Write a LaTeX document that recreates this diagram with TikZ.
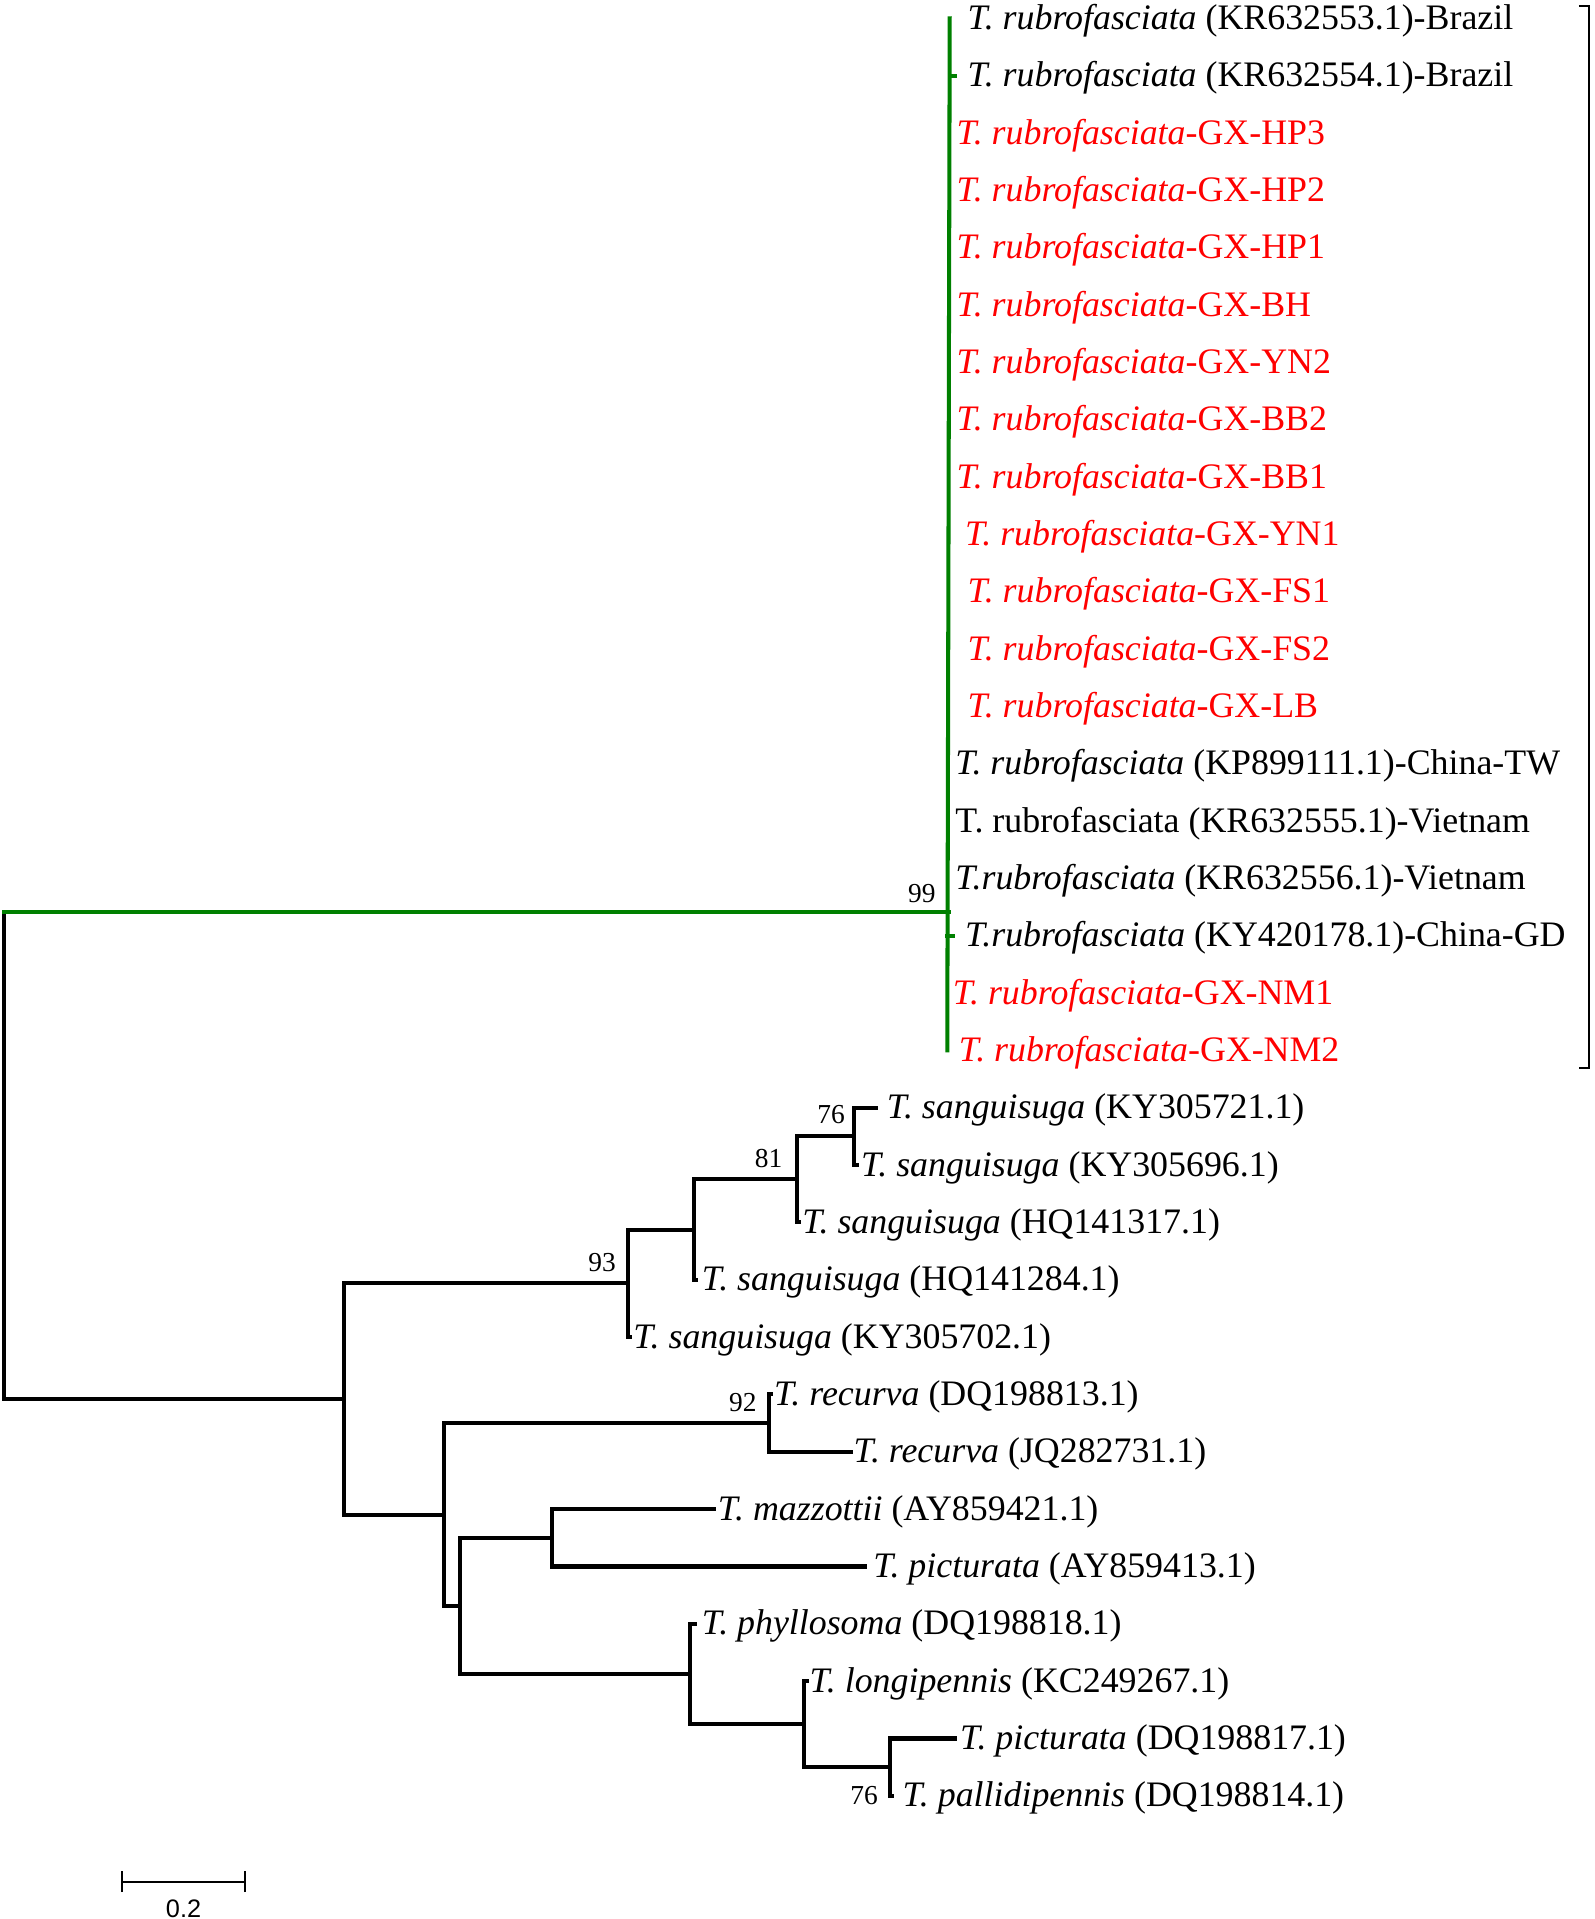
\documentclass[tikz,border=0pt]{standalone}
\usepackage{fontspec}
\setmainfont{Liberation Serif}
\newfontfamily\barfont{Liberation Sans}
\definecolor{treegreen}{RGB}{0,128,0}
\definecolor{labred}{RGB}{255,0,0}
\begin{document}
\begin{tikzpicture}[x=0.012241cm,y=-0.012241cm,
  br/.style={line width=1.15pt,black,line cap=rect,line join=miter},
  gbr/.style={line width=1.15pt,treegreen,line cap=rect,line join=miter},
  thin/.style={line width=0.6pt,black},
  lab/.style={anchor=base west,inner sep=0pt,font=\fontsize{10.2}{12}\selectfont},
  rlab/.style={lab,text=labred},
  boot/.style={inner sep=0pt,font=\fontsize{7.8}{9}\selectfont}]
\useasboundingbox (0,0) rectangle (1303,1568);
% ---------- green clade ----------
\coordinate (R) at (3,944);
\coordinate (g99) at (775,745);
\coordinate (gtop) at (776,15);
\coordinate (gbot) at (774,858.3);
\coordinate (g2) at (780,61.85);
\coordinate (g17) at (779,764.6);
\draw[br] (R |- g99) -- (R |- 0,1143);
\draw[gbr] (R |- g99) -- (g99);
\draw[gbr] (gtop) -- (gbot);
\draw[gbr] (gtop |- g2) -- (g2);
\draw[gbr] (gbot |- g17) -- (g17);
\node[boot,anchor=south east] (b99) at (765,738) {99};
% green clade labels
\node[lab] (l1) at (790,24.0) {\textit{T. rubrofasciata} (KR632553.1)-Brazil};
\node[lab] (l2) at (790,70.85) {\textit{T. rubrofasciata} (KR632554.1)-Brazil};
\node[rlab] (l3) at (781,117.7) {\textit{T. rubrofasciata}-GX-HP3};
\node[rlab] (l4) at (781,164.55) {\textit{T. rubrofasciata}-GX-HP2};
\node[rlab] (l5) at (781,211.4) {\textit{T. rubrofasciata}-GX-HP1};
\node[rlab] (l6) at (781,258.25) {\textit{T. rubrofasciata}-GX-BH};
\node[rlab] (l7) at (781,305.1) {\textit{T. rubrofasciata}-GX-YN2};
\node[rlab] (l8) at (781,351.95) {\textit{T. rubrofasciata}-GX-BB2};
\node[rlab] (l9) at (781,398.8) {\textit{T. rubrofasciata}-GX-BB1};
\node[rlab] (l10) at (788,445.65) {\textit{T. rubrofasciata}-GX-YN1};
\node[rlab] (l11) at (790,492.5) {\textit{T. rubrofasciata}-GX-FS1};
\node[rlab] (l12) at (790,539.35) {\textit{T. rubrofasciata}-GX-FS2};
\node[rlab] (l13) at (790,586.2) {\textit{T. rubrofasciata}-GX-LB};
\node[lab] (l14) at (780,633.05) {\textit{T. rubrofasciata} (KP899111.1)-China-TW};
\node[lab] (l15) at (780,679.9) {T. rubrofasciata (KR632555.1)-Vietnam};
\node[lab] (l16) at (780,726.75) {\textit{T.rubrofasciata} (KR632556.1)-Vietnam};
\node[lab] (l17) at (788,773.6) {\textit{T.rubrofasciata} (KY420178.1)-China-GD};
\node[rlab] (l18) at (778,820.45) {\textit{T. rubrofasciata}-GX-NM1};
\node[rlab] (l19) at (783,867.3) {\textit{T. rubrofasciata}-GX-NM2};
% bracket
\coordinate (kt) at (1290,5);
\coordinate (kb) at (1290,873);
\coordinate (kr) at (1298,440);
\draw[thin] (kt) -| (kr) |- (kb);
% ---------- black clade ----------
\coordinate (A) at (281,1143.0);
\coordinate (B) at (513,1048.6);
\coordinate (C) at (567,1004.7);
\coordinate (D) at (651,963.7);
\coordinate (E) at (698,928.6);
\coordinate (F) at (363,1237.5);
\coordinate (G) at (628,1162.8);
\coordinate (H) at (376,1312.2);
\coordinate (I) at (451,1256.5);
\coordinate (J) at (564,1367.8);
\coordinate (K) at (657,1408.8);
\coordinate (L) at (727,1443.9);
% tips
\coordinate (t20) at (716,905.15);
\coordinate (t21) at (700,952.0);
\coordinate (t22) at (653,998.85);
\coordinate (t23) at (569,1045.7);
\coordinate (t24) at (515,1092.55);
\coordinate (t25) at (630,1139.4);
\coordinate (t26) at (695,1186.25);
\coordinate (t27) at (583,1233.1);
\coordinate (t28) at (707,1279.95);
\coordinate (t29) at (568,1326.8);
\coordinate (t30) at (659,1373.65);
\coordinate (t31) at (780,1420.5);
\coordinate (t32) at (729,1467.35);
\draw[br] (R |- A) -- (A);
\draw[br] (A) |- (B);
\draw[br] (A) |- (F);
\draw[br] (B) |- (C);
\draw[br] (B) |- (t24);
\draw[br] (C) |- (D);
\draw[br] (C) |- (t23);
\draw[br] (D) |- (E);
\draw[br] (D) |- (t22);
\draw[br] (E) |- (t20);
\draw[br] (E) |- (t21);
\draw[br] (F) |- (G);
\draw[br] (F) |- (H);
\draw[br] (G) |- (t25);
\draw[br] (G) |- (t26);
\draw[br] (H) |- (I);
\draw[br] (H) |- (J);
\draw[br] (I) |- (t27);
\draw[br] (I) |- (t28);
\draw[br] (J) |- (t29);
\draw[br] (J) |- (K);
\draw[br] (K) |- (t30);
\draw[br] (K) |- (L);
\draw[br] (L) |- (t31);
\draw[br] (L) |- (t32);
% labels
\node[lab] (l20) at (724,914.15) {\textit{T. sanguisuga} (KY305721.1)};
\node[lab] (l21) at (703,961.0) {\textit{T. sanguisuga} (KY305696.1)};
\node[lab] (l22) at (655,1007.85) {\textit{T. sanguisuga} (HQ141317.1)};
\node[lab] (l23) at (573,1054.7) {\textit{T. sanguisuga} (HQ141284.1)};
\node[lab] (l24) at (517,1101.55) {\textit{T. sanguisuga} (KY305702.1)};
\node[lab] (l25) at (632,1148.4) {\textit{T. recurva} (DQ198813.1)};
\node[lab] (l26) at (697,1195.25) {\textit{T. recurva} (JQ282731.1)};
\node[lab] (l27) at (586,1242.1) {\textit{T. mazzottii} (AY859421.1)};
\node[lab] (l28) at (713,1288.95) {\textit{T. picturata} (AY859413.1)};
\node[lab] (l29) at (573,1335.8) {\textit{T. phyllosoma} (DQ198818.1)};
\node[lab] (l30) at (661,1382.65) {\textit{T. longipennis} (KC249267.1)};
\node[lab] (l31) at (784,1429.5) {\textit{T. picturata} (DQ198817.1)};
\node[lab] (l32) at (737,1476.35) {\textit{T. pallidipennis} (DQ198814.1)};
% bootstrap values
\node[boot] (b76a) at (679,911) {76};
\node[boot] (b81) at (628,947) {81};
\node[boot] (b93) at (492,1032) {93};
\node[boot] (b92) at (607,1146) {92};
\node[boot] (b76b) at (706,1467) {76};
% scale bar
\coordinate (s0) at (100,1537.5);
\coordinate (s1) at (200,1537.5);
\draw[thin] (s0) -- (s1);
\draw[thin] ([yshift=-0.105cm]s0) -- ([yshift=0.105cm]s0);
\draw[thin] ([yshift=-0.105cm]s1) -- ([yshift=0.105cm]s1);
\node[inner sep=0pt,font=\barfont\fontsize{7.2}{9}\selectfont] (sl) at (150,1560) {0.2};
\end{tikzpicture}
\end{document}
